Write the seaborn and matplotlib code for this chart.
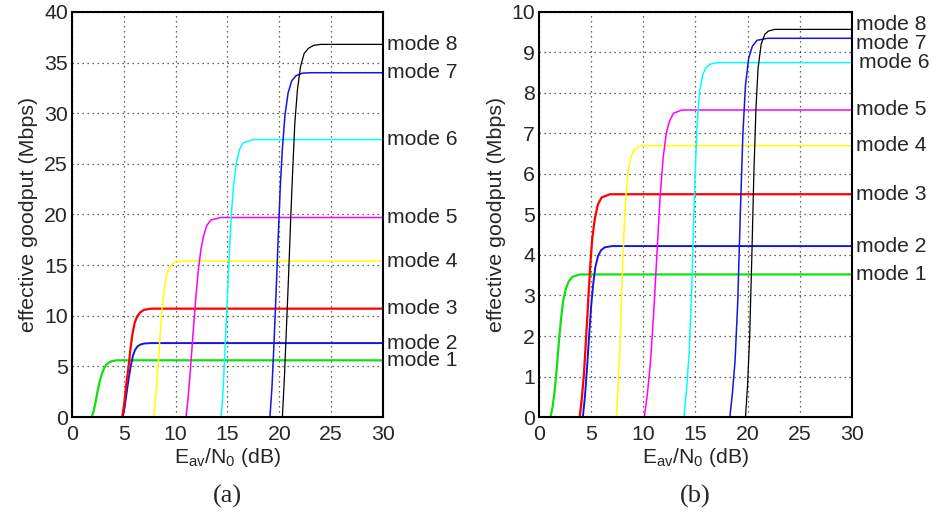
import pandas as pd
import numpy as np
import matplotlib.pyplot as plt
import seaborn as sns

modes = ["mode 1", "mode 2", "mode 3", "mode 4", "mode 5", "mode 6", "mode 7", "mode 8"]

# panel (a): points, Eav/N0 (dB) vs goodput (Mbps)
a_x = [
    [1.9, 2.1, 2.3, 2.5, 2.7, 2.9, 3.1, 3.3, 3.55, 3.85, 4.3, 30],
    [4.9, 5.1, 5.3, 5.5, 5.7, 5.9, 6.1, 6.35, 6.65, 7.0, 7.6, 30],
    [4.85, 5.05, 5.25, 5.45, 5.65, 5.85, 6.05, 6.3, 6.6, 6.95, 7.6, 30],
    [7.9, 8.1, 8.3, 8.5, 8.7, 8.9, 9.1, 9.35, 9.65, 10.0, 10.8, 30],
    [11.0, 11.2, 11.45, 11.7, 11.95, 12.2, 12.45, 12.7, 13.0, 13.4, 14.3, 30],
    [14.4, 14.6, 14.8, 15.0, 15.2, 15.4, 15.6, 15.85, 16.15, 16.5, 17.5, 30],
    [19.1, 19.3, 19.5, 19.7, 19.9, 20.1, 20.3, 20.55, 20.85, 21.2, 21.6, 22.2, 23.0, 30],
    [20.3, 20.5, 20.7, 20.9, 21.1, 21.3, 21.5, 21.75, 22.05, 22.4, 22.8, 23.3, 24.0, 30],
]
a_y = [
    [0, 0.6, 1.6, 2.7, 3.6, 4.3, 4.8, 5.15, 5.38, 5.52, 5.6, 5.6],
    [0, 1.1, 2.6, 4.0, 5.2, 6.1, 6.65, 7.0, 7.18, 7.26, 7.3, 7.3],
    [0, 1.4, 3.3, 4.9, 6.8, 8.3, 9.3, 9.95, 10.35, 10.58, 10.7, 10.7],
    [0, 2.2, 5.0, 8.0, 10.7, 12.7, 13.9, 14.7, 15.1, 15.3, 15.4, 15.4],
    [0, 1.8, 5.0, 8.5, 11.8, 14.6, 16.6, 17.9, 18.9, 19.45, 19.7, 19.7],
    [0, 3.0, 7.5, 12.0, 16.5, 20.3, 23.0, 25.0, 26.4, 27.05, 27.4, 27.4],
    [0, 3.0, 7.5, 12.5, 17.8, 22.8, 26.5, 29.8, 32.0, 33.2, 33.7, 33.95, 34.0, 34.0],
    [0, 4.0, 9.0, 14.0, 19.5, 24.5, 29.0, 32.3, 34.6, 35.9, 36.4, 36.7, 36.8, 36.8],
]

# panel (b)
b_x = [
    [1.1, 1.3, 1.5, 1.7, 1.9, 2.1, 2.3, 2.55, 2.85, 3.2, 3.9, 30],
    [4.2, 4.4, 4.6, 4.8, 5.0, 5.2, 5.4, 5.65, 5.95, 6.3, 7.0, 30],
    [3.9, 4.1, 4.3, 4.5, 4.7, 4.9, 5.1, 5.35, 5.65, 6.0, 6.8, 30],
    [7.4, 7.6, 7.8, 8.0, 8.2, 8.4, 8.6, 8.85, 9.15, 9.5, 10.2, 30],
    [10.1, 10.4, 10.7, 11.0, 11.3, 11.6, 11.9, 12.2, 12.5, 12.9, 13.7, 30],
    [13.9, 14.15, 14.4, 14.65, 14.9, 15.15, 15.4, 15.7, 16.0, 16.4, 17.1, 30],
    [18.3, 18.55, 18.8, 19.05, 19.3, 19.55, 19.8, 20.1, 20.45, 20.9, 21.9, 30],
    [19.8, 20.0, 20.2, 20.4, 20.6, 20.8, 21.0, 21.3, 21.65, 22.0, 22.6, 30],
]
b_y = [
    [0, 0.25, 0.65, 1.2, 1.85, 2.4, 2.85, 3.15, 3.35, 3.46, 3.52, 3.52],
    [0, 0.5, 1.2, 2.0, 2.75, 3.3, 3.7, 3.97, 4.12, 4.19, 4.22, 4.22],
    [0, 0.45, 1.05, 1.9, 2.8, 3.7, 4.4, 4.9, 5.25, 5.42, 5.5, 5.5],
    [0, 0.8, 2.0, 3.6, 4.9, 5.7, 6.15, 6.45, 6.6, 6.67, 6.7, 6.7],
    [0, 0.6, 1.4, 2.6, 4.0, 5.4, 6.4, 7.0, 7.3, 7.5, 7.58, 7.58],
    [0, 0.7, 1.6, 3.2, 5.5, 7.2, 8.05, 8.45, 8.62, 8.71, 8.75, 8.75],
    [0, 0.6, 1.4, 2.8, 5.0, 7.0, 8.2, 8.85, 9.15, 9.3, 9.35, 9.35],
    [0, 0.8, 2.0, 3.9, 6.0, 7.6, 8.6, 9.2, 9.45, 9.53, 9.57, 9.57],
]

colors = ["#10e010", "#1515e0", "#ff0000", "#ffff00", "#ff00ff", "#00ffff", "#1515e0", "#000000"]
widths = [1.6, 1.4, 1.6, 1.1, 1.1, 1.1, 1.1, 0.9]


def to_frame(xs, ys):
    rows = []
    for m, x, y in zip(modes, xs, ys):
        rows.append(pd.DataFrame({"mode": m, "snr": x, "goodput": y}))
    return pd.concat(rows, ignore_index=True)


sns.set_style("white")
plt.rcParams['font.family'] = ['Liberation Sans', 'DejaVu Sans']
plt.rcParams['mathtext.fontset'] = 'custom'
plt.rcParams['mathtext.rm'] = 'Liberation Sans'
plt.rcParams['mathtext.it'] = 'Liberation Sans'

fig = plt.figure(figsize=(9.31, 5.14), dpi=100)
ax_a = fig.add_axes([0.0773, 0.1887, 0.334, 0.788])
ax_b = fig.add_axes([0.579, 0.1887, 0.336, 0.788])

panels = [
    (ax_a, a_x, a_y, 40, 5, "(a)", {}),
    (ax_b, b_x, b_y, 10, 1, "(b)", {"mode 8": (0, 0.13), "mode 7": (0, -0.12), "mode 6": (0.3, 0)}),
]

for ax, xs, ys, ymax, ystep, cap, nudge in panels:
    df = to_frame(xs, ys)
    for i, m in enumerate(modes):
        sns.lineplot(data=df[df["mode"] == m], x="snr", y="goodput", ax=ax,
                     color=colors[i], lw=widths[i], estimator=None, sort=False,
                     legend=False)
        dx, dy = nudge.get(m, (0, 0))
        ax.text(30.4 + dx, ys[i][-1] + dy, m, fontsize=15.2,
                va="center", ha="left", clip_on=False)
    ax.set_xlim(0, 30)
    ax.set_ylim(0, ymax)
    ax.set_xticks(np.arange(0, 31, 5))
    ax.set_yticks(np.arange(0, ymax + 0.1, ystep))
    ax.grid(True, color="black", ls=(0, (1, 3)), lw=0.9, alpha=0.8)
    ax.tick_params(labelsize=15.3, direction="in", length=3)
    ax.tick_params(axis="x", pad=6)
    ax.tick_params(axis="y", pad=3)
    for s in ax.spines.values():
        s.set_color("black")
        s.set_linewidth(1.5)
    ax.set_xlabel(r"$\mathregular{E_{av}/N_0}$ (dB)", fontsize=15.2, labelpad=1)
    ax.set_ylabel("effective goodput (Mbps)", fontsize=15.4, labelpad=4)
    bb = ax.get_position()
    fig.text((bb.x0 + bb.x1) / 2, 0.035, cap, ha="center", va="center",
             fontsize=19, family="Liberation Serif")

fig.savefig("out.png", dpi=100)
